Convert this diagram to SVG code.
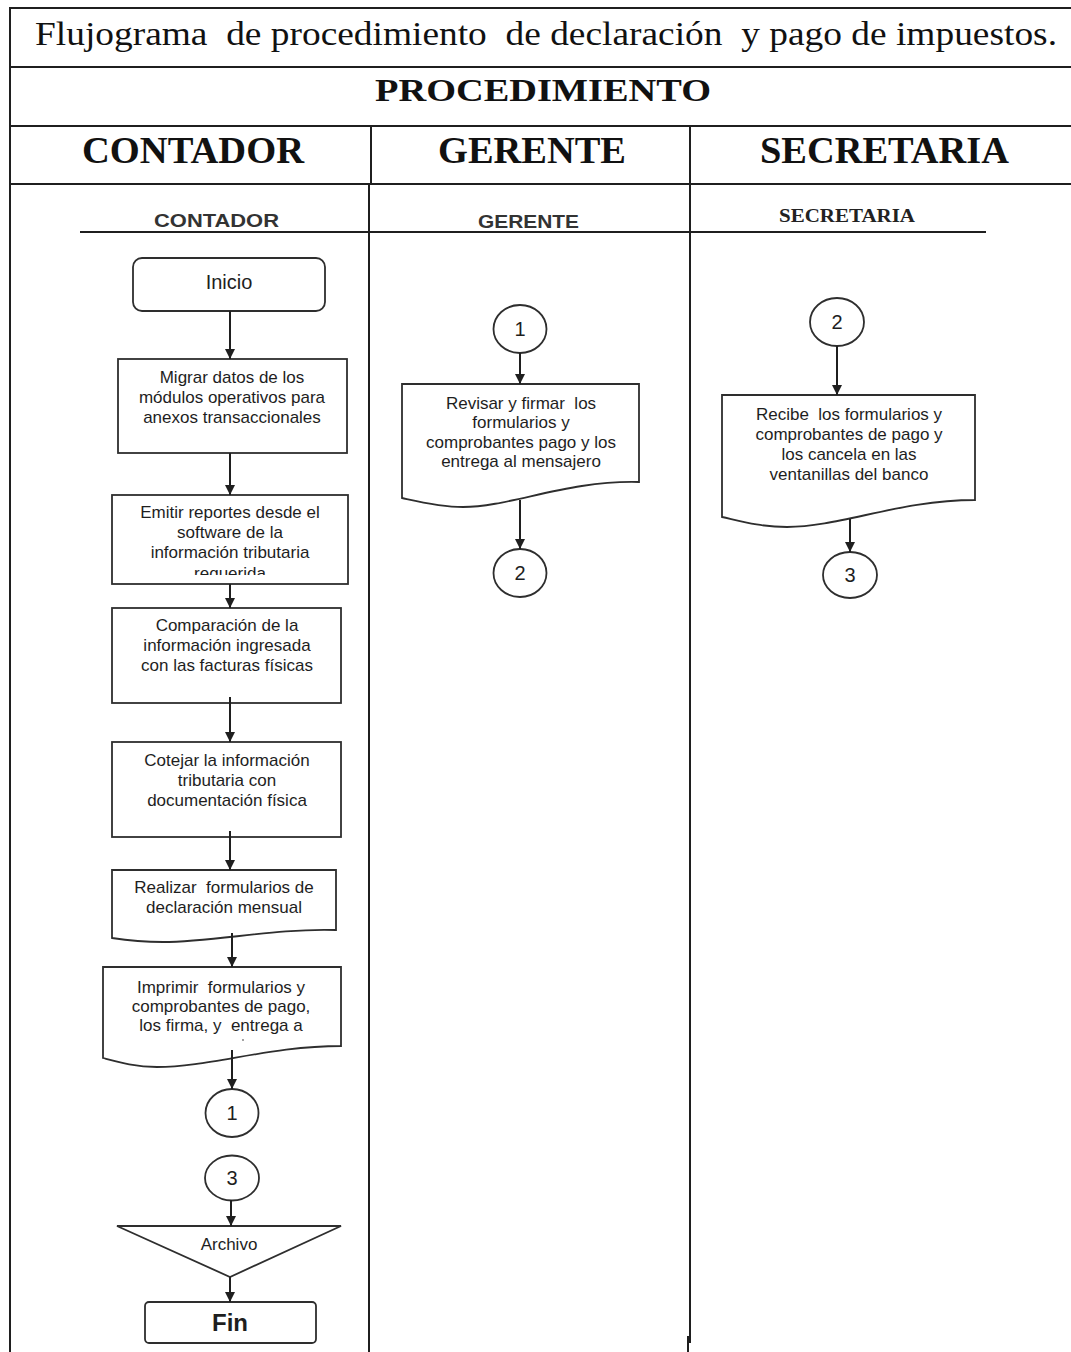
<svg xmlns="http://www.w3.org/2000/svg" width="1071" height="1352" viewBox="0 0 1071 1352">
  <style>
    .grid { stroke: #1f1f1f; stroke-width: 2; fill: none; }
    .shape { fill: #ffffff; stroke: #2e2e2e; stroke-width: 1.8; }
    .edge { stroke: #1f1f1f; stroke-width: 2; fill: none; marker-end: url(#arrow); }
    .title { font-family: "Liberation Serif", "Times New Roman", serif; fill: #111; }
    .head { font-family: "Liberation Serif", "Times New Roman", serif; font-weight: bold; fill: #111; }
    .lane { font-family: "Liberation Sans", Arial, sans-serif; font-weight: bold; font-size: 19px; fill: #333; }
    .lane2 { font-family: "Liberation Serif", "Times New Roman", serif; font-weight: bold; font-size: 18px; fill: #222; }
    .txt { font-family: "Liberation Sans", Arial, sans-serif; font-size: 17px; fill: #1e1e1e; text-anchor: middle; white-space: pre; }
    .num { font-family: "Liberation Sans", Arial, sans-serif; font-size: 20px; fill: #1e1e1e; text-anchor: middle; }
  </style>
  <defs>
    <marker id="arrow" viewBox="0 0 10 10" refX="10" refY="5" markerWidth="10" markerHeight="10" markerUnits="userSpaceOnUse" orient="auto">
      <path d="M0,0 L10,5 L0,10 Z" fill="#1f1f1f"/>
    </marker>
    <clipPath id="clip-emitir">
      <rect x="112" y="495" width="236" height="80"/>
    </clipPath>
  </defs>

  <rect width="1071" height="1352" fill="#ffffff"/>

  <!-- table frame -->
  <g id="table">
    <line class="grid" x1="9" y1="8" x2="1071" y2="8" stroke-width="3"/>
    <line class="grid" x1="10" y1="7" x2="10" y2="1352"/>
    <line class="grid" x1="10" y1="67" x2="1071" y2="67"/>
    <line class="grid" x1="10" y1="126" x2="1071" y2="126"/>
    <line class="grid" x1="10" y1="184" x2="1071" y2="184"/>
    <line class="grid" x1="371" y1="126" x2="371" y2="184"/>
    <line class="grid" x1="369" y1="184" x2="369" y2="1352"/>
    <line class="grid" x1="690" y1="126" x2="690" y2="1343"/>
    <line class="grid" x1="688" y1="1336" x2="688" y2="1352"/>
    <line class="grid" x1="80" y1="232" x2="986" y2="232"/>
  </g>

  <!-- headings -->
  <g id="headings">
    <text class="title" x="35" y="45" style="font-size:34px" textLength="1022" lengthAdjust="spacingAndGlyphs" xml:space="preserve">Flujograma  de procedimiento  de declaración  y pago de impuestos.</text>
    <text class="head" x="375" y="101" style="font-size:31px" textLength="336" lengthAdjust="spacingAndGlyphs">PROCEDIMIENTO</text>
    <text class="head" x="82" y="163" style="font-size:37px" textLength="222" lengthAdjust="spacingAndGlyphs">CONTADOR</text>
    <text class="head" x="438" y="163" style="font-size:37px" textLength="188" lengthAdjust="spacingAndGlyphs">GERENTE</text>
    <text class="head" x="760" y="163" style="font-size:37px" textLength="249" lengthAdjust="spacingAndGlyphs">SECRETARIA</text>
    <text class="lane" x="154" y="227" textLength="125" lengthAdjust="spacingAndGlyphs">CONTADOR</text>
    <text class="lane" x="478" y="228" textLength="101" lengthAdjust="spacingAndGlyphs">GERENTE</text>
    <text class="lane2" x="779" y="222" textLength="136" lengthAdjust="spacingAndGlyphs">SECRETARIA</text>
  </g>

  <!-- Contador lane -->
  <g id="inicio">
    <rect class="shape" x="133" y="258" width="192" height="53" rx="9"/>
    <text class="txt" x="229" y="289" style="font-size:20px">Inicio</text>
  </g>
  <g id="migrar">
    <rect class="shape" x="118" y="359" width="229" height="94"/>
    <text class="txt" x="232" y="383">Migrar datos de los</text>
    <text class="txt" x="232" y="403">módulos operativos para</text>
    <text class="txt" x="232" y="423">anexos transaccionales</text>
  </g>
  <g id="emitir">
    <rect class="shape" x="112" y="495" width="236" height="89"/>
    <text class="txt" x="230" y="518">Emitir reportes desde el</text>
    <text class="txt" x="230" y="538">software de la</text>
    <text class="txt" x="230" y="558">información tributaria</text>
    <text class="txt" x="230" y="579" clip-path="url(#clip-emitir)">requerida</text>
  </g>
  <g id="comparacion">
    <rect class="shape" x="112" y="608" width="229" height="95"/>
    <text class="txt" x="227" y="631">Comparación de la</text>
    <text class="txt" x="227" y="651">información ingresada</text>
    <text class="txt" x="227" y="671">con las facturas físicas</text>
  </g>
  <g id="cotejar">
    <rect class="shape" x="112" y="742" width="229" height="95"/>
    <text class="txt" x="227" y="766">Cotejar la información</text>
    <text class="txt" x="227" y="786">tributaria con</text>
    <text class="txt" x="227" y="806">documentación física</text>
  </g>
  <g id="realizar">
    <path class="shape" d="M112,870 H336 V930 C275,928 215,942 163,942 C140,942 125,940 112,938 Z"/>
    <text class="txt" x="224" y="893">Realizar  formularios de</text>
    <text class="txt" x="224" y="913">declaración mensual</text>
  </g>
  <g id="imprimir">
    <path class="shape" d="M103,967 H341 V1046 C270,1046 210,1067 157,1067 C135,1067 118,1062 103,1058 Z"/>
    <text class="txt" x="221" y="993">Imprimir  formularios y</text>
    <text class="txt" x="221" y="1012">comprobantes de pago,</text>
    <text class="txt" x="221" y="1031">los firma, y  entrega a</text>
    <circle cx="243" cy="1040" r="0.9" fill="#777"/>
  </g>
  <g id="conector-1-salida">
    <ellipse class="shape" cx="232" cy="1113" rx="26.5" ry="24"/>
    <text class="num" x="232" y="1120">1</text>
  </g>
  <g id="conector-3-entrada">
    <ellipse class="shape" cx="232" cy="1178" rx="27" ry="22.5"/>
    <text class="num" x="232" y="1185">3</text>
  </g>
  <g id="archivo">
    <path class="shape" d="M117,1226 H341 L230,1277 Z"/>
    <text class="txt" x="229" y="1250">Archivo</text>
  </g>
  <g id="fin">
    <rect class="shape" x="145" y="1302" width="171" height="41" rx="4"/>
    <text class="txt" x="230" y="1331" style="font-size:24px;font-weight:bold">Fin</text>
  </g>

  <!-- Gerente lane -->
  <g id="conector-1-gerente">
    <ellipse class="shape" cx="520" cy="329" rx="26.5" ry="24"/>
    <text class="num" x="520" y="336">1</text>
  </g>
  <g id="revisar">
    <path class="shape" d="M402,384 H639 V482 C568,480 510,507 463,507 C440,507 420,502 402,498 Z"/>
    <text class="txt" x="521" y="409">Revisar y firmar  los</text>
    <text class="txt" x="521" y="428">formularios y</text>
    <text class="txt" x="521" y="448">comprobantes pago y los</text>
    <text class="txt" x="521" y="467">entrega al mensajero</text>
  </g>
  <g id="conector-2-gerente">
    <ellipse class="shape" cx="520" cy="573" rx="26.5" ry="24"/>
    <text class="num" x="520" y="580">2</text>
  </g>

  <!-- Secretaria lane -->
  <g id="conector-2-secretaria">
    <ellipse class="shape" cx="837" cy="322" rx="27" ry="24"/>
    <text class="num" x="837" y="329">2</text>
  </g>
  <g id="recibe">
    <path class="shape" d="M722,395 H975 V500 C900,500 840,527 787,527 C760,527 740,521 722,517 Z"/>
    <text class="txt" x="849" y="420">Recibe  los formularios y</text>
    <text class="txt" x="849" y="440">comprobantes de pago y</text>
    <text class="txt" x="849" y="460">los cancela en las</text>
    <text class="txt" x="849" y="480">ventanillas del banco</text>
  </g>
  <g id="conector-3-secretaria">
    <ellipse class="shape" cx="850" cy="575" rx="27" ry="23"/>
    <text class="num" x="850" y="582">3</text>
  </g>

  <!-- connectors -->
  <g id="connectors">
    <line class="edge" x1="230" y1="311" x2="230" y2="359"/>
    <line class="edge" x1="230" y1="453" x2="230" y2="495"/>
    <line class="edge" x1="230" y1="584" x2="230" y2="608"/>
    <line class="edge" x1="230" y1="697" x2="230" y2="742"/>
    <line class="edge" x1="230" y1="831" x2="230" y2="870"/>
    <line class="edge" x1="232" y1="933" x2="232" y2="967"/>
    <line class="edge" x1="232" y1="1050" x2="232" y2="1089"/>
    <line class="edge" x1="231" y1="1200" x2="231" y2="1226"/>
    <line class="edge" x1="230" y1="1277" x2="230" y2="1302"/>
    <line class="edge" x1="520" y1="353" x2="520" y2="384"/>
    <line class="edge" x1="520" y1="500" x2="520" y2="549"/>
    <line class="edge" x1="837" y1="346" x2="837" y2="395"/>
    <line class="edge" x1="850" y1="519" x2="850" y2="552"/>
  </g>
</svg>
